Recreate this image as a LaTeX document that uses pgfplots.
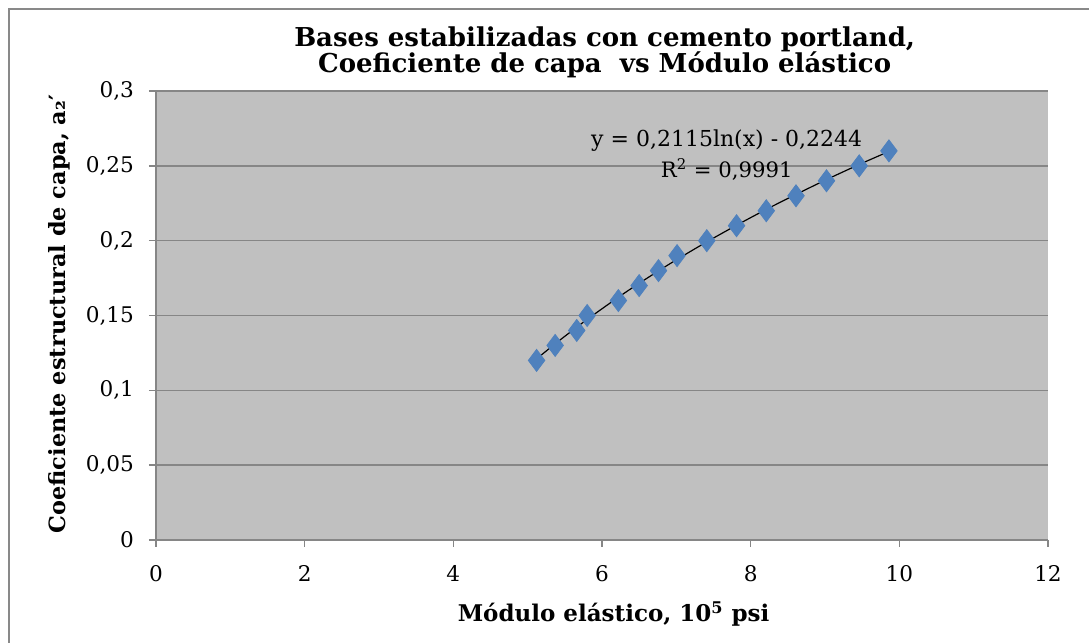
\documentclass[border=0pt]{standalone}
\usepackage{fontspec}
\setmainfont{DejaVu Serif}
\usepackage{pgfplots}
\pgfplotsset{compat=1.18}
\definecolor{plotbg}{HTML}{C0C0C0}
\definecolor{gridc}{HTML}{868686}
\definecolor{borderc}{HTML}{898989}
\definecolor{mk}{HTML}{4F81BD}
\pgfplotstableread{
x y
5.12 0.12
5.37 0.13
5.66 0.14
5.80 0.15
6.22 0.16
6.50 0.17
6.76 0.18
7.01 0.19
7.41 0.20
7.81 0.21
8.21 0.22
8.61 0.23
9.02 0.24
9.46 0.25
9.86 0.26
}\datatable
\pgfplotstableread{
x y
5.12 0.1210
5.37 0.1311
5.66 0.1422
5.80 0.1474
6.22 0.1622
6.50 0.1715
6.76 0.1798
7.01 0.1875
7.41 0.1992
7.81 0.2103
8.21 0.2209
8.61 0.2309
9.02 0.2408
9.46 0.2509
9.86 0.2596
}\trendtable
\begin{document}
\begin{tikzpicture}
\path[use as bounding box] (0,0) rectangle (544.5pt,321.5pt);
\draw[borderc, line width=0.75pt] (4.5pt,-10pt) -- (4.5pt,317pt) -- (560pt,317pt);
\begin{axis}[
  at={(78pt,51.5pt)}, anchor=south west,
  scale only axis, width=446pt, height=224.5pt,
  xmin=0, xmax=12, ymin=0, ymax=0.3,
  xtick={0,2,4,6,8,10,12},
  ytick={0,0.05,0.1,0.15,0.2,0.25,0.3},
  yticklabels={0,{0,05},{0,1},{0,15},{0,2},{0,25},{0,3}},
  axis background/.style={fill=plotbg},
  ymajorgrids, grid style={gridc, line width=0.75pt},
  axis lines=left,
  axis line style={gridc, line width=0.75pt, -},
  tick align=outside, major tick length=3.5pt,
  tick style={gridc, line width=0.75pt},
  /pgf/number format/assume math mode=true,
  ticklabel style={font=\fontsize{10.8}{12}\selectfont},
  yticklabel style={xshift=-4pt},
  xticklabel style={yshift=-5.5pt},
  xlabel={\textbf{Módulo elástico, 10\textsuperscript{5} psi}},
  xlabel style={font=\fontsize{11.5}{13}\selectfont, at={(axis description cs:0.513,-0.165)}, anchor=center},
  ylabel={\textbf{Coeficiente estructural de capa, a₂′}},
  ylabel style={font=\fontsize{11.2}{13}\selectfont, at={(axis description cs:-0.1087,0.503)}, anchor=center, rotate=0},
  clip=false,
]
\addplot[only marks, mark=diamond*, mark size=5.5pt, mark options={fill=mk, draw=mk}] table[x=x,y=y] {\datatable};
\addplot[black, line width=0.6pt, smooth, no marks] table[x=x,y=y] {\trendtable};
\node[anchor=base, font=\fontsize{11}{12}\selectfont] at (axis cs:7.678,0.2628) {y = 0,2115ln(x) - 0,2244};
\node[anchor=base, font=\fontsize{10.6}{12}\selectfont] at (axis cs:7.678,0.2425) {R\textsuperscript{2} = 0,9991};
\node[anchor=base, font=\bfseries\fontsize{13}{15}\selectfont] at (axis description cs:0.503,1.098) {Bases estabilizadas con cemento portland,};
\node[anchor=base, font=\bfseries\fontsize{13}{15}\selectfont] at (axis description cs:0.503,1.0423) {Coeficiente de capa\ \ vs Módulo elástico};
\end{axis}
\end{tikzpicture}
\end{document}
